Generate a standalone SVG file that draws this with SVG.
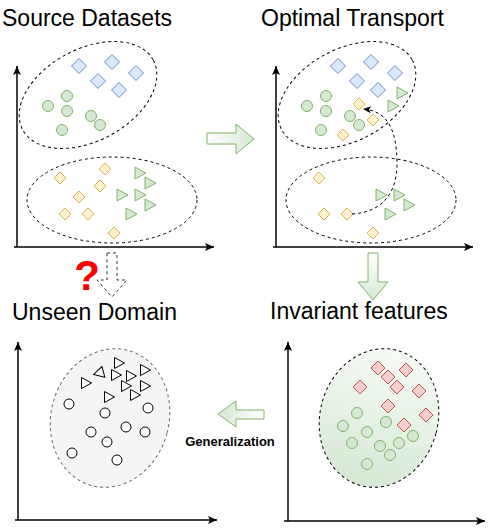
<svg xmlns="http://www.w3.org/2000/svg" xmlns:xlink="http://www.w3.org/1999/xlink" width="498" height="531" viewBox="0 0 498 531">
<style>
.title{font-family:"Liberation Sans",Arial,Helvetica,sans-serif;font-size:23px;fill:#000}
.lbl{font-family:"Liberation Sans",Arial,Helvetica,sans-serif;font-size:13px;font-weight:bold;fill:#000}
.q{font-family:"Liberation Sans",Arial,Helvetica,sans-serif;font-size:42px;font-weight:bold;fill:#ff0000}
.axis{stroke:#000;stroke-width:1.5;fill:none}
.ell{fill:none;stroke:#000;stroke-width:1;stroke-dasharray:3 3}
.blue{fill:#dae8fc;stroke:#6c8ebf;stroke-width:1}
.yel{fill:#fff2cc;stroke:#d6b656;stroke-width:1}
.grn{fill:#d5e8d4;stroke:#82b366;stroke-width:1}
.red{fill:#f8cecc;stroke:#b85450;stroke-width:1}
.wht{fill:#fff;stroke:#000;stroke-width:1}
.garrow{stroke:#82b366;stroke-width:1}
</style>
<defs>
<marker id="ah" markerUnits="userSpaceOnUse" markerWidth="10" markerHeight="9" refX="9" refY="4" orient="auto" overflow="visible">
<path d="M0,0 L9,4 L0,8 L2,4 Z" fill="#000"/>
</marker>
<marker id="ahs" markerUnits="userSpaceOnUse" markerWidth="9" markerHeight="8" refX="8" refY="3.5" orient="auto" overflow="visible">
<path d="M0,0 L8,3.5 L0,7 L2,3.5 Z" fill="#000"/>
</marker>
<linearGradient id="gR" x1="0" y1="0" x2="1" y2="0"><stop offset="0" stop-color="#ffffff"/><stop offset="1" stop-color="#d5e8d4"/></linearGradient>
<linearGradient id="gD" x1="0" y1="0" x2="0" y2="1"><stop offset="0" stop-color="#ffffff"/><stop offset="1" stop-color="#d5e8d4"/></linearGradient>
<linearGradient id="gL" x1="1" y1="0" x2="0" y2="0"><stop offset="0" stop-color="#ffffff"/><stop offset="1" stop-color="#d5e8d4"/></linearGradient>
<linearGradient id="gE" x1="0" y1="0" x2="0" y2="1"><stop offset="0" stop-color="#f7fbf6"/><stop offset="1" stop-color="#d5e8d4"/></linearGradient>
<path id="dB" d="M0,-7.5 L7.5,0 L0,7.5 L-7.5,0 Z"/>
<path id="dR" d="M0,-7 L7,0 L0,7 L-7,0 Z"/>
<path id="dY" d="M0,-6 L6,0 L0,6 L-6,0 Z"/>
<path id="tri" d="M-5,-6 L6,0 L-5,6 Z"/>
<path id="triS" d="M-4.5,-5.5 L5.5,0 L-4.5,5.5 Z"/>
</defs>

<!-- Panel 1: Source Datasets -->
<g id="source-datasets">
<text class="title" x="2" y="26">Source Datasets</text>
<line class="axis" x1="17" y1="247" x2="17" y2="66" marker-end="url(#ah)"/>
<line class="axis" x1="14" y1="247" x2="214" y2="247" marker-end="url(#ah)"/>
<ellipse class="ell" cx="88" cy="95" rx="74" ry="46" transform="rotate(-28 88 95)"/>
<ellipse class="ell" cx="112" cy="200" rx="85" ry="43"/>
<use href="#dB" class="blue" x="79" y="66"/>
<use href="#dB" class="blue" x="112" y="62"/>
<use href="#dB" class="blue" x="136" y="73"/>
<use href="#dB" class="blue" x="98" y="81"/>
<use href="#dB" class="blue" x="119" y="90"/>
<circle class="grn" cx="67" cy="96" r="5.5"/>
<circle class="grn" cx="48" cy="106" r="5.5"/>
<circle class="grn" cx="67" cy="111" r="5.5"/>
<circle class="grn" cx="91" cy="116" r="5.5"/>
<circle class="grn" cx="100" cy="125" r="5.5"/>
<circle class="grn" cx="62" cy="130" r="5.5"/>
<use href="#dY" class="yel" x="105" y="169"/>
<use href="#dY" class="yel" x="60" y="178"/>
<use href="#dY" class="yel" x="100" y="186"/>
<use href="#dY" class="yel" x="79" y="197"/>
<use href="#dY" class="yel" x="65" y="214"/>
<use href="#dY" class="yel" x="88" y="214"/>
<use href="#dY" class="yel" x="114" y="233"/>
<use href="#tri" class="grn" x="140" y="173"/>
<use href="#tri" class="grn" x="150" y="183"/>
<use href="#tri" class="grn" x="122" y="195"/>
<use href="#tri" class="grn" x="140" y="195"/>
<use href="#tri" class="grn" x="150" y="205"/>
<use href="#tri" class="grn" x="131" y="214"/>
</g>

<!-- Panel 2: Optimal Transport -->
<g id="optimal-transport">
<text class="title" x="261" y="26">Optimal Transport</text>
<line class="axis" x1="276" y1="247" x2="276" y2="66" marker-end="url(#ah)"/>
<line class="axis" x1="273" y1="247" x2="473" y2="247" marker-end="url(#ah)"/>
<ellipse class="ell" cx="347" cy="95" rx="74" ry="46" transform="rotate(-28 347 95)"/>
<ellipse class="ell" cx="371" cy="200" rx="85" ry="43"/>
<use href="#dB" class="blue" x="338" y="66"/>
<use href="#dB" class="blue" x="371" y="62"/>
<use href="#dB" class="blue" x="395" y="73"/>
<use href="#dB" class="blue" x="357" y="81"/>
<use href="#dB" class="blue" x="378" y="90"/>
<circle class="grn" cx="326" cy="96" r="5.5"/>
<circle class="grn" cx="307" cy="106" r="5.5"/>
<circle class="grn" cx="326" cy="111" r="5.5"/>
<circle class="grn" cx="350" cy="116" r="5.5"/>
<circle class="grn" cx="359" cy="125" r="5.5"/>
<circle class="grn" cx="321" cy="130" r="5.5"/>
<use href="#tri" class="grn" x="402" y="93"/>
<use href="#tri" class="grn" x="393" y="106"/>
<use href="#dY" class="yel" x="359" y="104"/>
<use href="#dY" class="yel" x="373" y="120"/>
<use href="#dY" class="yel" x="343" y="135"/>
<use href="#dY" class="yel" x="319" y="178"/>
<use href="#dY" class="yel" x="324" y="214"/>
<use href="#dY" class="yel" x="347" y="214"/>
<use href="#dY" class="yel" x="373" y="233"/>
<use href="#tri" class="grn" x="381" y="195"/>
<use href="#tri" class="grn" x="399" y="195"/>
<use href="#tri" class="grn" x="409" y="205"/>
<use href="#tri" class="grn" x="390" y="214"/>
</g>

<!-- Panel 3: Unseen Domain -->
<g id="unseen-domain">
<text class="title" x="12" y="319.5">Unseen Domain</text>
<line class="axis" x1="18" y1="520" x2="18" y2="342" marker-end="url(#ah)"/>
<line class="axis" x1="15" y1="520" x2="217" y2="520" marker-end="url(#ah)"/>
<ellipse cx="110" cy="418" rx="59" ry="70" transform="rotate(15 110 418)" fill="#f5f5f5" stroke="#666666" stroke-width="1" stroke-dasharray="3 3"/>
<use href="#triS" class="wht" x="119" y="363"/>
<use href="#triS" class="wht" transform="translate(99 373) rotate(165)"/>
<use href="#triS" class="wht" x="116" y="375"/>
<use href="#triS" class="wht" x="131" y="376"/>
<use href="#triS" class="wht" x="145" y="370"/>
<use href="#triS" class="wht" x="86" y="383"/>
<use href="#triS" class="wht" x="126" y="386"/>
<use href="#triS" class="wht" x="145" y="386"/>
<use href="#triS" class="wht" x="109" y="397"/>
<use href="#triS" class="wht" x="135" y="395"/>
<circle class="wht" cx="69" cy="404" r="5"/>
<circle class="wht" cx="105" cy="413" r="5"/>
<circle class="wht" cx="148" cy="408" r="5"/>
<circle class="wht" cx="91" cy="432" r="5"/>
<circle class="wht" cx="126" cy="427" r="5"/>
<circle class="wht" cx="145" cy="432" r="5"/>
<circle class="wht" cx="107" cy="442" r="5"/>
<circle class="wht" cx="72" cy="453" r="5"/>
<circle class="wht" cx="117" cy="460" r="5"/>
</g>

<!-- Panel 4: Invariant features -->
<g id="invariant-features">
<text class="title" x="270" y="319">Invariant features</text>
<line class="axis" x1="288" y1="521" x2="288" y2="342" marker-end="url(#ah)"/>
<line class="axis" x1="284" y1="521" x2="485" y2="521" marker-end="url(#ah)"/>
<ellipse cx="379" cy="418" rx="59" ry="70" transform="rotate(15 379 418)" fill="url(#gE)" stroke="#000" stroke-width="1" stroke-dasharray="3 3"/>
<use href="#dR" class="red" x="378" y="368"/>
<use href="#dR" class="red" x="406" y="370"/>
<use href="#dR" class="red" x="388" y="377"/>
<use href="#dR" class="red" x="360" y="387"/>
<use href="#dR" class="red" x="397" y="387"/>
<use href="#dR" class="red" x="419" y="391"/>
<use href="#dR" class="red" x="388" y="406"/>
<use href="#dR" class="red" x="404" y="425"/>
<use href="#dR" class="red" x="426" y="415"/>
<circle class="grn" cx="357" cy="413" r="5.5"/>
<circle class="grn" cx="343" cy="426" r="5.5"/>
<circle class="grn" cx="386" cy="422" r="5.5"/>
<circle class="grn" cx="367" cy="432" r="5.5"/>
<circle class="grn" cx="352" cy="443" r="5.5"/>
<circle class="grn" cx="380" cy="446" r="5.5"/>
<circle class="grn" cx="399" cy="443" r="5.5"/>
<circle class="grn" cx="413" cy="436" r="5.5"/>
<circle class="grn" cx="390" cy="455" r="5.5"/>
<circle class="grn" cx="367" cy="464" r="5.5"/>
</g>

<!-- Connectors -->
<g id="connectors">
<path class="garrow" fill="url(#gR)" d="M207,133 L236,133 L236,124 L254,139 L236,154 L236,144 L207,144 Z"/>
<path class="garrow" fill="url(#gD)" d="M368,253 L378,253 L378,282 L388,282 L373,300 L358,282 L368,282 Z"/>
<path class="garrow" fill="url(#gL)" d="M264,410 L236,410 L236,401 L218,414 L236,427 L236,419 L264,419 Z"/>
<path d="M107,253 L117,253 L117,280 L127,280 L112,297 L97,280 L107,280 Z" fill="#fff" stroke="#333" stroke-width="1" stroke-dasharray="3 3"/>
<path d="M352,214 C385,212 398,190 397,160 C396,130 388,111 363,109" fill="none" stroke="#000" stroke-width="1" stroke-dasharray="3 3" marker-end="url(#ahs)"/>
<text class="q" x="87" y="289.5" text-anchor="middle">?</text>
<text class="lbl" x="230" y="446" text-anchor="middle">Generalization</text>
</g>
</svg>
